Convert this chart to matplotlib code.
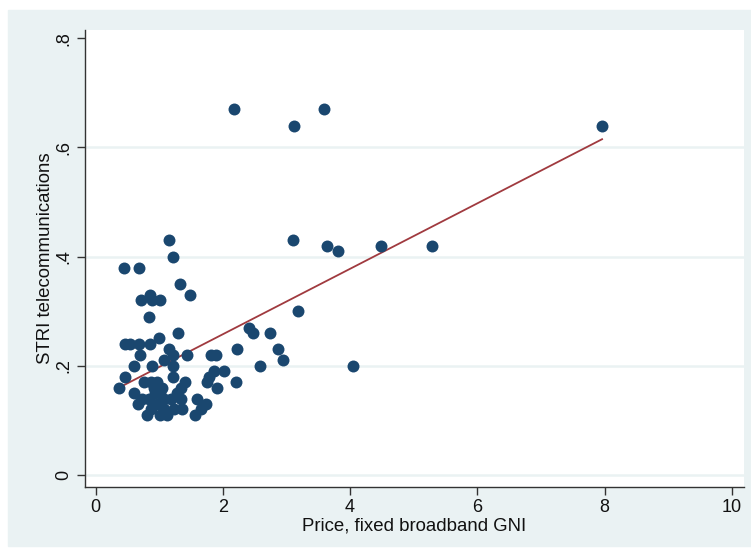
import numpy as np
import matplotlib
matplotlib.use("Agg")
import matplotlib.pyplot as plt
from matplotlib.patches import Rectangle

plt.rcParams['font.family'] = ['Liberation Sans', 'DejaVu Sans']

# price of fixed broadband (% of GNI) vs STRI telecommunications
price = [2.17, 3.59, 3.12, 7.96,
         3.11, 3.63, 3.81, 4.49, 5.29,
         3.18, 4.05,
         2.41, 2.47, 2.74, 2.22, 2.86, 2.94, 2.58,
         1.81, 1.89, 1.86, 2.02, 1.75, 1.91, 2.20, 1.78, 1.60, 1.73, 1.57, 1.65,
         1.16, 1.21, 0.45, 0.68, 1.32, 1.48,
         0.72, 0.85, 0.88, 1.01, 0.84, 1.30, 1.00,
         0.47, 0.54, 0.69, 0.85,
         1.15, 0.70, 1.07, 1.21, 1.43,
         0.61, 0.88, 1.22,
         0.47, 1.22, 0.37, 0.60,
         0.76, 0.87, 0.97, 0.92, 1.02, 0.73, 0.84, 0.97, 1.07, 1.28, 1.34,
         0.66, 0.87, 1.07, 1.23, 0.81, 1.02, 1.13,
         1.41, 1.36, 1.34, 1.05, 1.18, 0.94]
stri = [0.67, 0.67, 0.64, 0.64,
        0.43, 0.42, 0.41, 0.42, 0.42,
        0.30, 0.20,
        0.27, 0.26, 0.26, 0.23, 0.23, 0.21, 0.20,
        0.22, 0.22, 0.19, 0.19, 0.17, 0.16, 0.17, 0.18, 0.14, 0.13, 0.11, 0.12,
        0.43, 0.40, 0.38, 0.38, 0.35, 0.33,
        0.32, 0.33, 0.32, 0.32, 0.29, 0.26, 0.25,
        0.24, 0.24, 0.24, 0.24,
        0.23, 0.22, 0.21, 0.22, 0.22,
        0.20, 0.20, 0.20,
        0.18, 0.18, 0.16, 0.15,
        0.17, 0.17, 0.17, 0.16, 0.15, 0.14, 0.14, 0.13, 0.14, 0.15, 0.16,
        0.13, 0.12, 0.12, 0.12, 0.11, 0.11, 0.11,
        0.17, 0.12, 0.14, 0.16, 0.14, 0.15]

# fitted line end points
fit_x = [0.37, 7.96]
fit_y = [0.16, 0.615]

y_ticks = [0, 0.2, 0.4, 0.6, 0.8]
y_ticklabels = ['0', '.2', '.4', '.6', '.8']
x_ticks = [0, 2, 4, 6, 8, 10]

W, H = 751, 554
fig = plt.figure(figsize=(W/100, H/100), dpi=100, facecolor='white')
bg = '#EAF2F3'
fig.add_artist(Rectangle((8/W, 0.015), 1 - 8/W, 1 - 0.015 - 10/H,
                         transform=fig.transFigure, color=bg, zorder=-5))

ax = fig.add_axes([85/W, 1 - 487/H, (744-85)/W, (487-30)/H])
ax.set_facecolor('white')

for yv in y_ticks[:-1]:
    ax.axhline(yv, color=bg, lw=1.8, zorder=1)

ax.scatter(price, stri, s=74, color='#1A476F', linewidths=0, zorder=3)
ax.plot(fit_x, fit_y, color='#A03A3F', lw=1.3, zorder=2)

ax.set_xlim(-0.165, 10.19)
ax.set_ylim(-0.022, 0.815)
ax.set_xticks(x_ticks)
ax.set_yticks(y_ticks)
ax.set_yticklabels(y_ticklabels, rotation=90, va='center')

for s in ['top', 'right']:
    ax.spines[s].set_visible(False)
for s in ['left', 'bottom']:
    ax.spines[s].set_color('#333333')
    ax.spines[s].set_linewidth(1.0)
ax.tick_params(direction='out', length=6, width=1.0, color='#333333',
               labelsize=13, labelcolor='#111111', pad=3)

ax.set_xlabel('Price, fixed broadband GNI', fontsize=13.4, color='#111111', labelpad=1)
ax.set_ylabel('STRI telecommunications', fontsize=13.4, color='#111111', labelpad=1)

fig.savefig('out.png', dpi=100, facecolor='white')
